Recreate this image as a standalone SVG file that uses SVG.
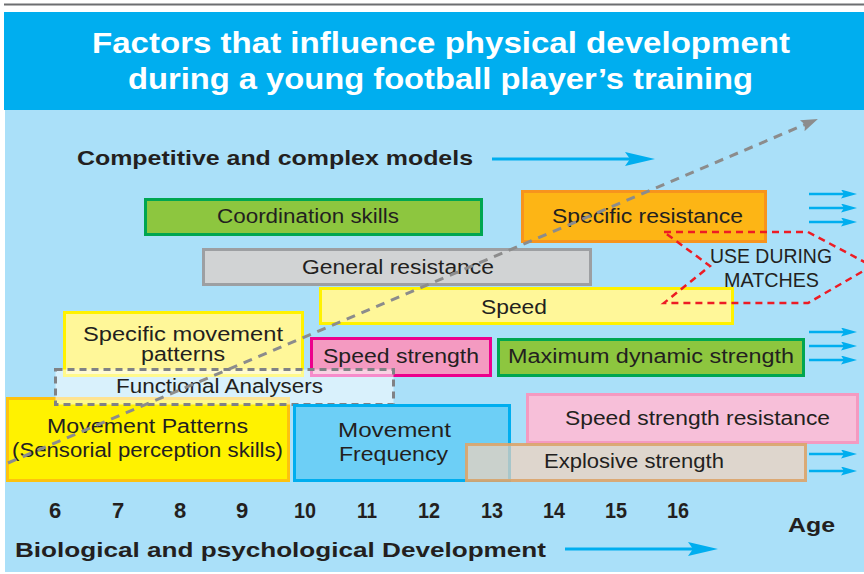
<svg xmlns="http://www.w3.org/2000/svg" width="864" height="574" viewBox="0 0 864 574">
  <style>
    .title { font-family: "Liberation Sans", Arial, sans-serif; font-weight: bold; font-size: 30px; fill: #ffffff; }
    .head { font-family: "Liberation Sans", Arial, sans-serif; font-weight: bold; font-size: 21px; fill: #231f20; }
    .num { font-family: "Liberation Sans", Arial, sans-serif; font-weight: bold; font-size: 22px; fill: #231f20; text-anchor: middle; }
    .lbl { font-family: "Liberation Sans", Arial, sans-serif; font-size: 20px; fill: #231f20; }
    .box { stroke-width: 3; }
    .blue { stroke: #00aeef; stroke-width: 3; fill: none; }
    .blue-s { stroke: #00aeef; stroke-width: 2.5; fill: none; }
  </style>
  <defs>
    <marker id="bigHead" markerUnits="userSpaceOnUse" viewBox="0 0 30 14" refX="5" refY="7" markerWidth="30" markerHeight="14" orient="auto">
      <path d="M0,0 L30,7 L0,14 L5,7 z" fill="#00aeef"/>
    </marker>
    <marker id="smallHead" markerUnits="userSpaceOnUse" viewBox="0 0 16 9" refX="3" refY="4.5" markerWidth="16" markerHeight="9" orient="auto">
      <path d="M0,0 L16,4.5 L0,9 L3,4.5 z" fill="#00aeef"/>
    </marker>
    <marker id="grayHead" markerUnits="userSpaceOnUse" viewBox="0 0 17 12" refX="3" refY="6" markerWidth="17" markerHeight="12" orient="auto">
      <path d="M0,0 L17,6 L0,12 L3,6 z" fill="#8c8c8c"/>
    </marker>
  </defs>

  <!-- page rule and backgrounds -->
  <rect x="0" y="0" width="864" height="574" fill="#ffffff"/>
  <line x1="4" y1="4.5" x2="864" y2="4.5" stroke="#6d6e71" stroke-width="2"/>
  <rect x="4" y="12" width="860" height="98" fill="#00aeef"/>
  <rect x="5" y="110" width="859" height="462" fill="#aae0f9"/>

  <g id="title">
    <text class="title" x="92" y="53" textLength="698" lengthAdjust="spacingAndGlyphs">Factors that influence physical development</text>
    <text class="title" x="128" y="89" textLength="625" lengthAdjust="spacingAndGlyphs">during a young football player’s training</text>
  </g>

  <g id="competitive-models">
    <text class="head" x="77" y="165" textLength="396" lengthAdjust="spacingAndGlyphs">Competitive and complex models</text>
  </g>

  <!-- training factor bars -->
  <g id="coordination-skills">
    <rect class="box" x="145.5" y="199.5" width="336" height="35" fill="#8dc63f" stroke="#00a651"/>
    <text class="lbl" x="217" y="223" textLength="182" lengthAdjust="spacingAndGlyphs">Coordination skills</text>
  </g>
  <g id="specific-resistance">
    <rect class="box" x="522.5" y="191.5" width="243" height="50" fill="#fdb515" stroke="#f7941d"/>
    <text class="lbl" x="552" y="223" textLength="191" lengthAdjust="spacingAndGlyphs">Specific resistance</text>
  </g>
  <g id="general-resistance">
    <rect class="box" x="203.5" y="249.5" width="387" height="35" fill="#d1d3d4" stroke="#9d9fa2"/>
    <text class="lbl" x="302" y="274" textLength="192" lengthAdjust="spacingAndGlyphs">General resistance</text>
  </g>
  <g id="speed">
    <rect class="box" x="320.5" y="288.5" width="412" height="35" fill="#fff799" stroke="#fff200"/>
    <text class="lbl" x="481" y="314" textLength="66" lengthAdjust="spacingAndGlyphs">Speed</text>
  </g>
  <g id="specific-movement-patterns">
    <rect class="box" x="64.5" y="312.5" width="238" height="63" fill="#fff799" stroke="#fff200"/>
    <text class="lbl" x="83" y="341" textLength="200" lengthAdjust="spacingAndGlyphs">Specific movement</text>
    <text class="lbl" x="141" y="361" textLength="84" lengthAdjust="spacingAndGlyphs">patterns</text>
  </g>
  <g id="speed-strength">
    <rect class="box" x="311.5" y="338.5" width="179" height="37" fill="#f49ac1" stroke="#ec008c"/>
    <text class="lbl" x="323" y="363" textLength="156" lengthAdjust="spacingAndGlyphs">Speed strength</text>
  </g>
  <g id="maximum-dynamic-strength">
    <rect class="box" x="498.5" y="339.5" width="305" height="36" fill="#8dc63f" stroke="#00a651"/>
    <text class="lbl" x="508" y="363" textLength="286" lengthAdjust="spacingAndGlyphs">Maximum dynamic strength</text>
  </g>
  <g id="movement-patterns">
    <rect class="box" x="7.5" y="398.5" width="281" height="82" fill="#fff200" stroke="#fdc20f"/>
    <text class="lbl" x="47" y="433" textLength="201" lengthAdjust="spacingAndGlyphs">Movement Patterns</text>
    <text class="lbl" x="12" y="457" textLength="271" lengthAdjust="spacingAndGlyphs">(Sensorial perception skills)</text>
  </g>
  <g id="functional-analysers">
    <rect x="55.5" y="369.5" width="338" height="35" fill="#ffffff" fill-opacity="0.55" stroke="#808285" stroke-width="3" stroke-dasharray="7 5"/>
    <text class="lbl" x="116" y="393" textLength="207" lengthAdjust="spacingAndGlyphs">Functional Analysers</text>
  </g>
  <g id="movement-frequency">
    <rect class="box" x="294.5" y="405.5" width="215" height="75" fill="#6dcff6" stroke="#00aeef"/>
    <text class="lbl" x="338" y="437" textLength="113" lengthAdjust="spacingAndGlyphs">Movement</text>
    <text class="lbl" x="339" y="461" textLength="109" lengthAdjust="spacingAndGlyphs">Frequency</text>
  </g>
  <g id="speed-strength-resistance">
    <rect class="box" x="527.5" y="394.5" width="330" height="48" fill="#f7bfd9" stroke="#f49ac1"/>
    <text class="lbl" x="565" y="425" textLength="265" lengthAdjust="spacingAndGlyphs">Speed strength resistance</text>
  </g>
  <g id="explosive-strength">
    <rect class="box" x="466.5" y="444.5" width="339" height="36" fill="#f6d2b8" fill-opacity="0.68" stroke="#dba46a" stroke-opacity="0.9"/>
    <text class="lbl" x="544" y="468" textLength="180" lengthAdjust="spacingAndGlyphs">Explosive strength</text>
  </g>

  <!-- connectors: progression arrows and match-use outline -->
  <g id="connectors">
    <line x1="8" y1="463" x2="805" y2="124.5" stroke="#8c8c8c" stroke-width="3" stroke-dasharray="9 7" marker-end="url(#grayHead)"/>
    <polyline points="664,232 808,232 872,266 808,303 664,303 710,266 664,232" fill="none" stroke="#ed1c24" stroke-width="2.5" stroke-dasharray="7 5"/>
    <line class="blue" x1="492" y1="159" x2="630" y2="159" marker-end="url(#bigHead)"/>
    <line class="blue" x1="565" y1="549" x2="693" y2="549" marker-end="url(#bigHead)"/>
    <line class="blue-s" x1="809" y1="194" x2="844" y2="194" marker-end="url(#smallHead)"/>
    <line class="blue-s" x1="809" y1="208" x2="844" y2="208" marker-end="url(#smallHead)"/>
    <line class="blue-s" x1="809" y1="222" x2="844" y2="222" marker-end="url(#smallHead)"/>
    <line class="blue-s" x1="809" y1="332" x2="844" y2="332" marker-end="url(#smallHead)"/>
    <line class="blue-s" x1="809" y1="346" x2="844" y2="346" marker-end="url(#smallHead)"/>
    <line class="blue-s" x1="809" y1="360" x2="844" y2="360" marker-end="url(#smallHead)"/>
    <line class="blue-s" x1="809" y1="454" x2="844" y2="454" marker-end="url(#smallHead)"/>
    <line class="blue-s" x1="809" y1="471" x2="844" y2="471" marker-end="url(#smallHead)"/>
  </g>

  <g id="use-during-matches">
    <text class="lbl" x="710" y="263" textLength="122" lengthAdjust="spacingAndGlyphs">USE DURING</text>
    <text class="lbl" x="724" y="287" textLength="95" lengthAdjust="spacingAndGlyphs">MATCHES</text>
  </g>

  <!-- age axis -->
  <g id="age-axis">
    <text class="num" x="55" y="518">6</text>
    <text class="num" x="118" y="518">7</text>
    <text class="num" x="180" y="518">8</text>
    <text class="num" x="242" y="518">9</text>
    <text class="num" x="305" y="518" textLength="22" lengthAdjust="spacingAndGlyphs">10</text>
    <text class="num" x="367" y="518" textLength="20" lengthAdjust="spacingAndGlyphs">11</text>
    <text class="num" x="429" y="518" textLength="22" lengthAdjust="spacingAndGlyphs">12</text>
    <text class="num" x="492" y="518" textLength="22" lengthAdjust="spacingAndGlyphs">13</text>
    <text class="num" x="554" y="518" textLength="22" lengthAdjust="spacingAndGlyphs">14</text>
    <text class="num" x="616" y="518" textLength="22" lengthAdjust="spacingAndGlyphs">15</text>
    <text class="num" x="678" y="518" textLength="22" lengthAdjust="spacingAndGlyphs">16</text>
    <text class="head" x="788" y="532" font-size="22" textLength="47" lengthAdjust="spacingAndGlyphs">Age</text>
  </g>
  <g id="development">
    <text class="head" x="15" y="557" textLength="531" lengthAdjust="spacingAndGlyphs">Biological and psychological Development</text>
  </g>
</svg>
